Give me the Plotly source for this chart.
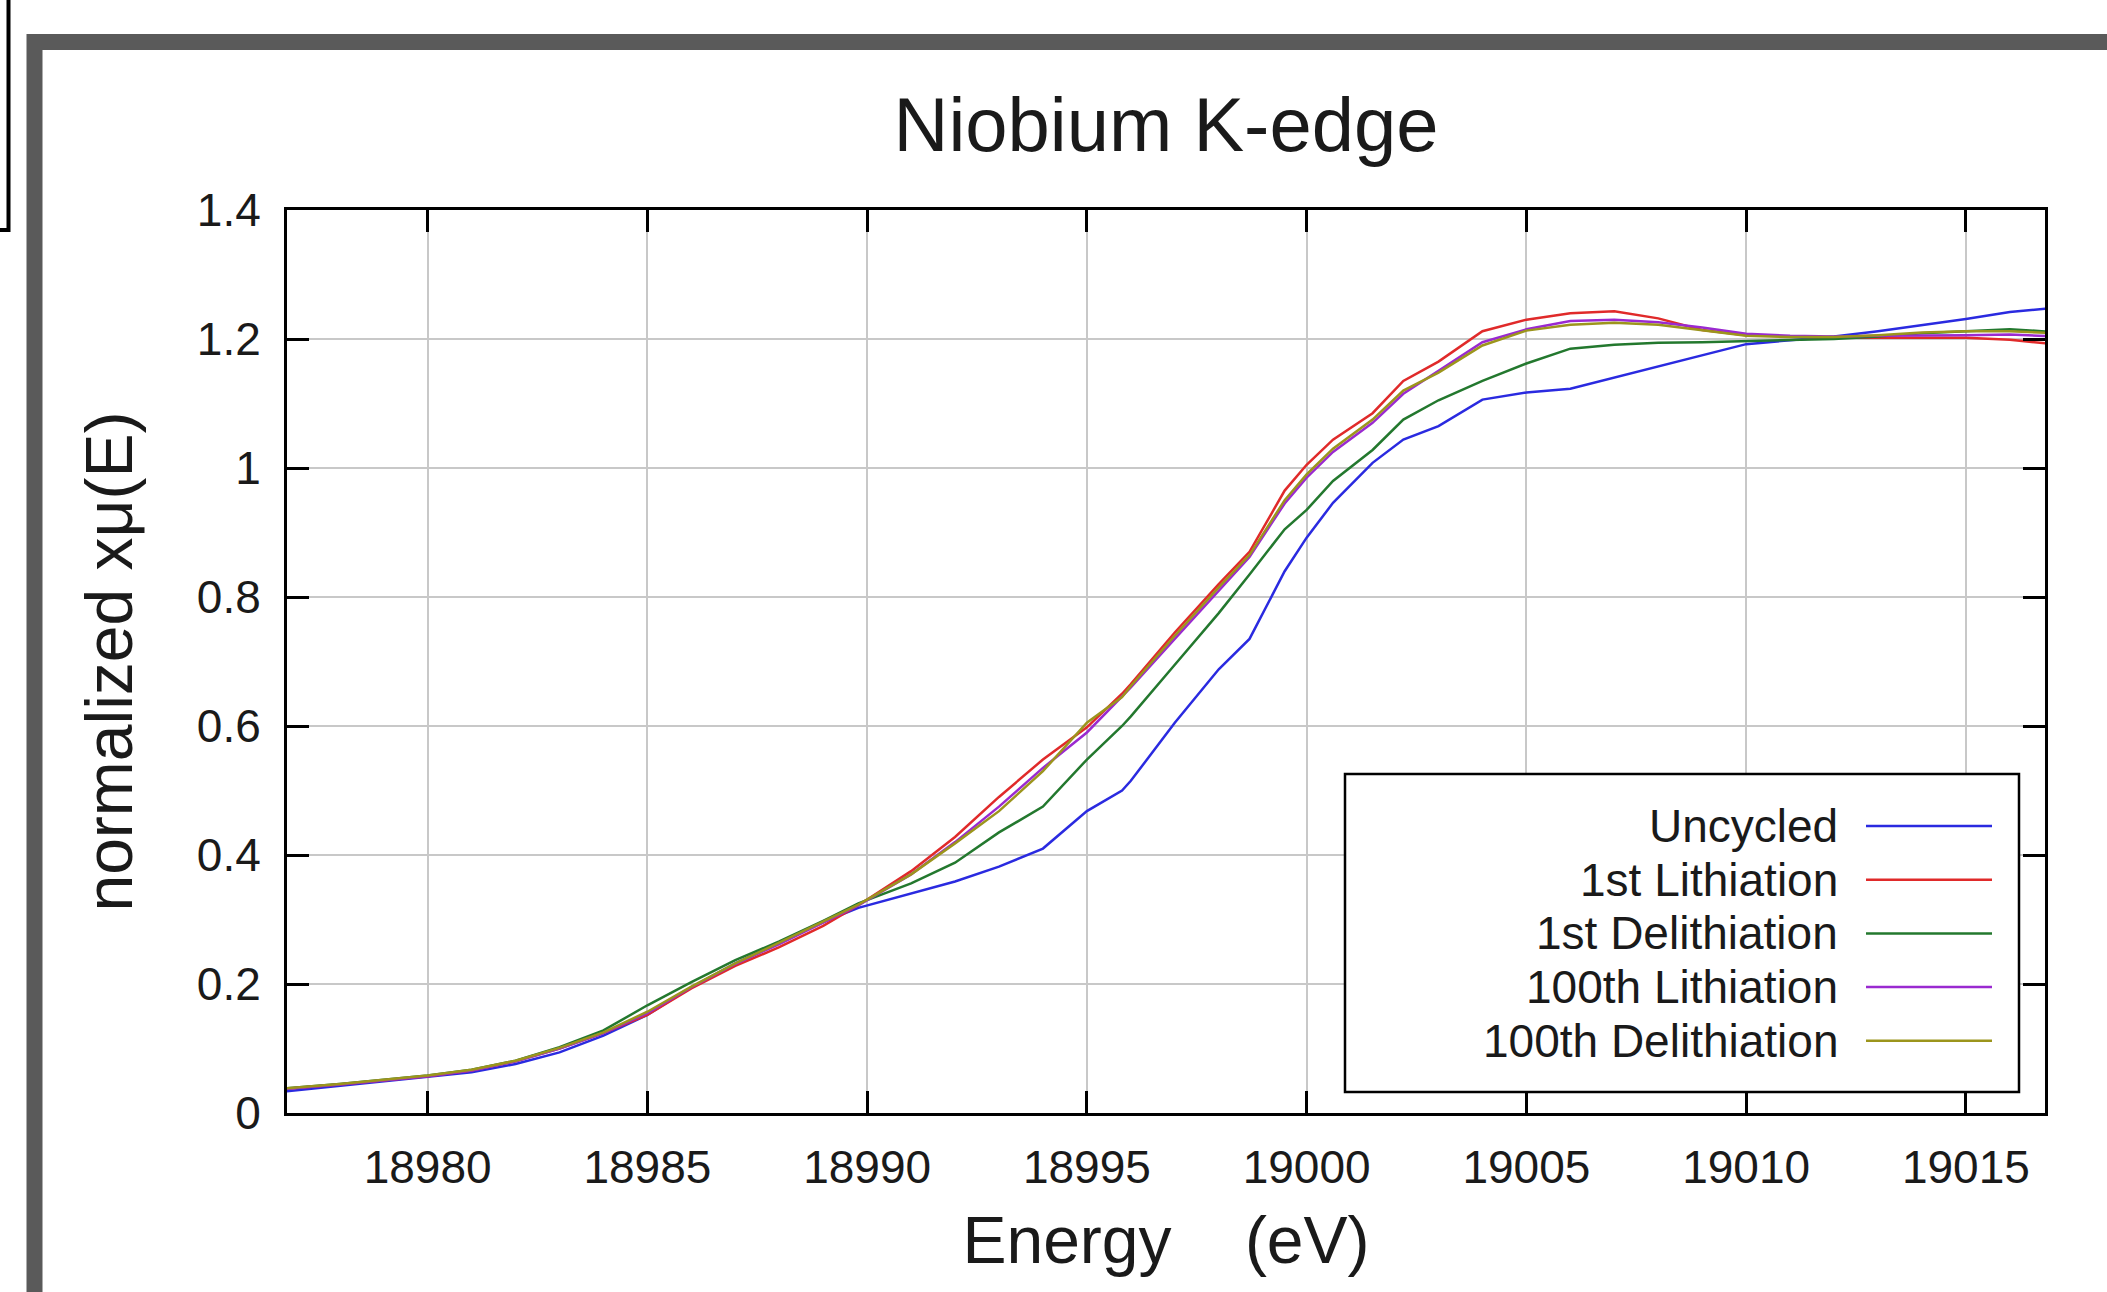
import plotly.graph_objects as go

# ---------------- data ----------------
energy = [18976.7, 18978, 18980, 18981, 18982, 18983, 18984, 18985, 18986, 18987,
          18988, 18989, 18989.8, 18991, 18992, 18993, 18994, 18995, 18995.8, 18996,
          18997, 18998, 18998.7, 18999.5, 19000, 19000.6, 19001.5, 19002.2, 19003, 19004,
          19005, 19006, 19007, 19008, 19009, 19010, 19011, 19012, 19013, 19014,
          19015, 19016, 19017]

uncycled = [0.033, 0.042, 0.055, 0.063, 0.076, 0.094, 0.120, 0.152, 0.195, 0.232,
            0.264, 0.296, 0.318, 0.340, 0.359, 0.382, 0.410, 0.468, 0.500, 0.515,
            0.605, 0.688, 0.735, 0.840, 0.892, 0.946, 1.008, 1.044, 1.065, 1.106,
            1.117, 1.123, 1.140, 1.157, 1.175, 1.192, 1.198, 1.204, 1.212, 1.221,
            1.231, 1.242, 1.248]

lith1 = [0.037, 0.044, 0.057, 0.066, 0.080, 0.100, 0.124, 0.152, 0.193, 0.228,
         0.257, 0.290, 0.322, 0.375, 0.428, 0.490, 0.548, 0.598, 0.650, 0.665,
         0.745, 0.820, 0.870, 0.965, 1.005, 1.044, 1.085, 1.135, 1.165, 1.212,
         1.230, 1.240, 1.243, 1.232, 1.214, 1.206, 1.204, 1.202, 1.202, 1.202,
         1.202, 1.199, 1.192]

delith1 = [0.038, 0.045, 0.058, 0.067, 0.081, 0.102, 0.128, 0.167, 0.203, 0.237,
           0.266, 0.298, 0.325, 0.356, 0.388, 0.435, 0.475, 0.548, 0.600, 0.615,
           0.695, 0.775, 0.835, 0.905, 0.935, 0.980, 1.028, 1.075, 1.105, 1.135,
           1.162, 1.185, 1.191, 1.194, 1.195, 1.197, 1.198, 1.200, 1.204, 1.209,
           1.212, 1.215, 1.211]

lith100 = [0.037, 0.044, 0.057, 0.066, 0.080, 0.100, 0.124, 0.155, 0.195, 0.231,
           0.262, 0.295, 0.322, 0.370, 0.420, 0.475, 0.535, 0.590, 0.645, 0.660,
           0.735, 0.810, 0.862, 0.945, 0.985, 1.025, 1.070, 1.115, 1.150, 1.195,
           1.215, 1.228, 1.230, 1.226, 1.218, 1.208, 1.205, 1.204, 1.205, 1.205,
           1.206, 1.207, 1.204]

delith100 = [0.038, 0.045, 0.058, 0.067, 0.081, 0.101, 0.125, 0.157, 0.196, 0.232,
             0.264, 0.297, 0.323, 0.370, 0.418, 0.468, 0.530, 0.605, 0.645, 0.662,
             0.740, 0.815, 0.865, 0.950, 0.990, 1.030, 1.075, 1.120, 1.148, 1.190,
             1.213, 1.222, 1.225, 1.222, 1.214, 1.205, 1.203, 1.203, 1.206, 1.210,
             1.212, 1.212, 1.209]

series_names = ["Uncycled", "1st Lithiation", "1st Delithiation",
                "100th Lithiation", "100th Delithiation"]
series_values = [uncycled, lith1, delith1, lith100, delith100]
series_colors = ["#2a2ae0", "#e02a2a", "#23782e", "#9a2ad0", "#9c951c"]

x_ticks = [18980, 18985, 18990, 18995, 19000, 19005, 19010, 19015]
y_ticks = [0, 0.2, 0.4, 0.6, 0.8, 1.0, 1.2, 1.4]
y_tick_labels = ["0", "0.2", "0.4", "0.6", "0.8", "1", "1.2", "1.4"]

# ---------------- layout geometry ----------------
W, H = 2107, 1292
ML, MR, MT, MB = 287, 62, 210, 179
PW, PH = W - ML - MR, H - MT - MB
FONT = "Liberation Sans, Arial, Helvetica, sans-serif"


def px(xpix):
    return (xpix - ML) / PW


def py(ypix):
    return (H - MB - ypix) / PH


fig = go.Figure()
for name, vals, col in zip(series_names, series_values, series_colors):
    fig.add_trace(go.Scatter(x=energy, y=vals, mode="lines", name=name,
                             line=dict(color=col, width=2.5), showlegend=False))

axis_common = dict(showline=True, linecolor="black", linewidth=3, mirror="allticks",
                   ticks="inside", ticklen=22, tickwidth=3, tickcolor="black",
                   showgrid=True, gridcolor="#c8c8c8", gridwidth=2, zeroline=False,
                   tickfont=dict(family=FONT, size=46, color="#1a1a1a"))

fig.update_xaxes(range=[18976.8, 19016.8], tickvals=x_ticks,
                 ticktext=[str(v) for v in x_ticks], ticklabelstandoff=12,
                 title=dict(text="Energy\u00a0\u00a0\u00a0\u00a0(eV)",
                            font=dict(family=FONT, size=66, color="#1a1a1a"), standoff=25),
                 **axis_common)
fig.update_yaxes(range=[0, 1.4], tickvals=y_ticks, ticktext=y_tick_labels,
                 ticklabelstandoff=14,
                 title=dict(text="normalized x\u03bc(E)",
                            font=dict(family=FONT, size=66, color="#1a1a1a"), standoff=43),
                 **axis_common)

shapes = []
# outer decorative frame (thick gray) and black box at top-left
shapes.append(dict(type="rect", xref="paper", yref="paper", layer="above",
                   x0=px(34.5), x1=px(2140), y0=py(42), y1=py(1330),
                   line=dict(color="#5a5a5a", width=16), fillcolor="rgba(0,0,0,0)"))
shapes.append(dict(type="rect", xref="paper", yref="paper", layer="above",
                   x0=px(-20), x1=px(8.5), y0=py(-20), y1=py(230),
                   line=dict(color="black", width=4), fillcolor="rgba(0,0,0,0)"))

# custom legend (text right-aligned, sample line on the right)
LX0, LX1, LY0, LY1 = 1345, 2019, 774, 1092
shapes.append(dict(type="rect", xref="paper", yref="paper", layer="above",
                   x0=px(LX0), x1=px(LX1), y0=py(LY0), y1=py(LY1),
                   line=dict(color="black", width=2.5), fillcolor="white"))
annotations = []
first_y, step = 826, 53.7
for i, (name, col) in enumerate(zip(series_names, series_colors)):
    yy = first_y + i * step
    shapes.append(dict(type="line", xref="paper", yref="paper", layer="above",
                       x0=px(1866), x1=px(1992), y0=py(yy), y1=py(yy),
                       line=dict(color=col, width=2.5)))
    annotations.append(dict(text=name, xref="paper", yref="paper", x=px(1840), y=py(yy),
                            xanchor="right", yanchor="middle", showarrow=False,
                            font=dict(family=FONT, size=46, color="#1a1a1a")))

fig.update_layout(
    width=W, height=H,
    margin=dict(l=ML, r=MR, t=MT, b=MB, pad=0),
    paper_bgcolor="white", plot_bgcolor="white",
    title=dict(text="Niobium K-edge", x=0.5, xref="paper", xanchor="center",
               y=1 - 124 / H, yref="container", yanchor="middle",
               font=dict(family=FONT, size=76, color="#1a1a1a")),
    shapes=shapes, annotations=annotations,
)

fig.write_html("out.html")
